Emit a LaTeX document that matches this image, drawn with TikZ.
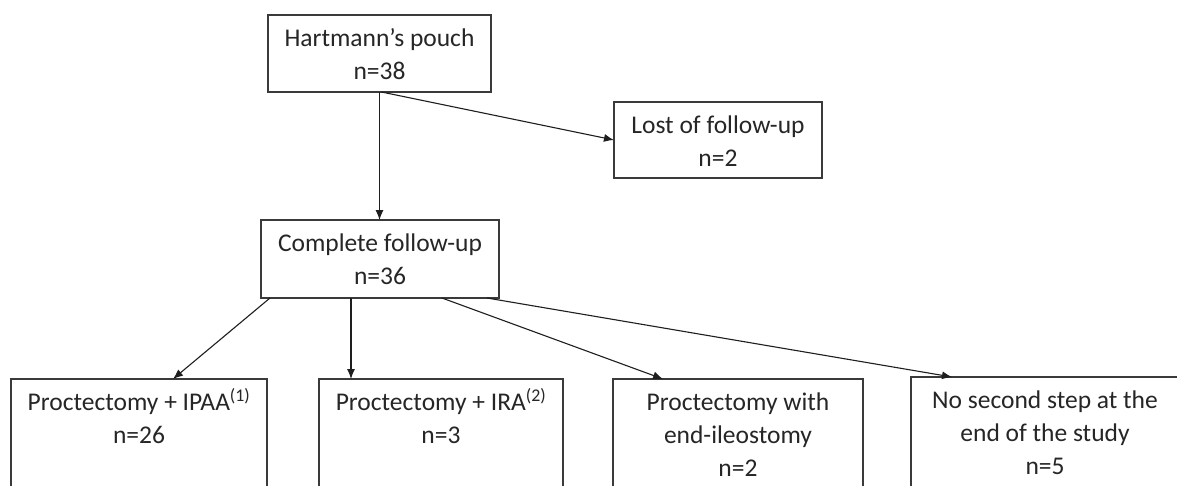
\documentclass[tikz,border=0pt]{standalone}
\usepackage{fontspec}
\setmainfont{Carlito}
\usetikzlibrary{arrows.meta,calc}
\definecolor{txt}{HTML}{262626}
\definecolor{edge}{HTML}{3A3A3A}
\definecolor{conn}{HTML}{1E1E1E}
\newcommand\bxt[3]{\parbox[c][#2pt][t]{#1pt}{\centering\vspace*{8.6pt}\strut #3\par}}
\tikzset{
  flowbox/.style={draw=edge, line width=1.3pt, inner sep=0pt, outer sep=0pt, anchor=north west, text=txt, fill=white},
  conarrow/.style={draw=conn, line width=1.1pt, -{Latex[length=10pt,width=8pt]}},
}
\begin{document}
\begin{tikzpicture}[x=1pt,y=-1pt,font=\fontsize{25.5}{33}\selectfont]
\useasboundingbox (0,0) rectangle (1177,485);
\clip (0,0) rectangle (1177,485);
\fill[white] (0,0) rectangle (1177,485);
\node[flowbox] (H) at (268,15) {\bxt{223}{77}{Hartmann’s pouch\\n=38}};
\node[flowbox] (L) at (614,102) {\bxt{208}{76}{Lost of follow-up\\n=2}};
\node[flowbox] (C) at (261,220) {\bxt{238}{78}{Complete follow-up\\n=36}};
\node[flowbox] (B1) at (11,379) {\bxt{256}{140}{Proctectomy + IPAA\textsuperscript{(1)}\\n=26}};
\node[flowbox] (B2) at (319,379) {\bxt{244}{140}{Proctectomy + IRA\textsuperscript{(2)}\\n=3}};
\node[flowbox] (B3) at (613,379) {\bxt{250}{140}{Proctectomy with\\end-ileostomy\\n=2}};
\node[flowbox] (B4) at (911,377) {\bxt{268}{140}{No second step at the\\end of the study\\n=5}};
\coordinate (h0) at ($(H.south)+(2,0)$);
\coordinate (c1) at ($(C.south west)+(9,0)$);
\coordinate (c3) at ($(C.south west)+(181,0)$);
\coordinate (c4) at ($(C.south west)+(226,0)$);
\coordinate (b1) at ($(B1.north west)+(162,0)$);
\coordinate (b2) at ($(B2.north west)+(32,0)$);
\coordinate (b3) at ($(B3.north west)+(50,0)$);
\coordinate (b4) at ($(B4.north west)+(41,0)$);
\draw[conarrow] (h0) -- (L.west);
\draw[conarrow] (H.south) -- (H.south |- C.north);
\draw[conarrow] (c1) -- (b1);
\draw[conarrow] (b2 |- C.south) -- (b2);
\draw[conarrow] (c3) -- (b3);
\draw[conarrow] (c4) -- (b4);
\end{tikzpicture}
\end{document}
